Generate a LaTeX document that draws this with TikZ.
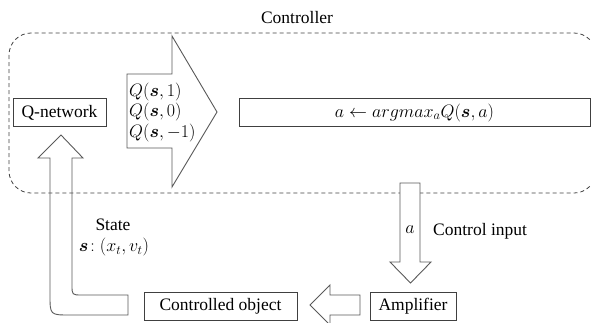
\RequirePackage{fix-cm}
\documentclass[tikz,border=0pt]{standalone}
\usepackage{amsmath}
\usepackage{fontspec}
\setmainfont{Liberation Serif}
\begin{document}
\begin{tikzpicture}[x=1pt,y=-1pt,
  every node/.style={font=\fontsize{17.5}{20.5}\selectfont},
  mathlbl/.style={font=\fontsize{18}{20.5}\selectfont},
  box/.style={draw=black!75, line width=0.9pt, fill=white, inner sep=0pt, minimum height=28pt},
  blockarrow/.style={draw=black!65, line width=0.9pt, line join=miter},
  txt/.style={inner sep=0pt}]
\useasboundingbox (0,0) rectangle (591,322);

% controller boundary (runs past the right edge)
\begin{scope}
  \clip (0,0) rectangle (591,322);
  \draw[dash pattern=on 4pt off 3pt, draw=black!75, line width=0.8pt, rounded corners=22pt]
    (9,33) rectangle (596,193);
\end{scope}
\node[txt] (ctrl) at (297,18) {Controller};

% blocks
\node[box, minimum width=93pt]  (qnet)   at (59.5,112.5)  {Q-network};
\node[box, mathlbl, minimum width=351pt] (argmax) at (414.5,112.5) {$a \leftarrow argmax_a Q(\boldsymbol{s},a)$};
\node[box, minimum width=153pt] (obj)    at (220.5,306)   {Controlled object};
\node[box, minimum width=86pt]  (amp)    at (413,306)     {Amplifier};

% Q-values block arrow
\draw[blockarrow, fill=white] (127,74) -- (172,74) -- (172,36) -- (217,112)
  -- (172,187) -- (172,148) -- (127,148) -- cycle;
\node[txt, mathlbl, anchor=west, align=left] (qvals) at (129,112)
  {$Q(\boldsymbol{s},1)$\\$Q(\boldsymbol{s},0)$\\$Q(\boldsymbol{s},-1)$};

% control input arrow
\draw[blockarrow, fill=white] (400,183) -- (420,183) -- (420,262) -- (431,262)
  -- (410.5,283) -- (390,262) -- (400,262) -- cycle;
\node[txt, mathlbl] (alab) at (410,230) {$a$};
\node[txt, anchor=west] (cin) at (433,231) {Control input};

% amplifier to controlled object
\draw[blockarrow, fill=white] (360,295) -- (330,295) -- (330,285) -- (310,305)
  -- (330,325) -- (330,315) -- (360,315) -- cycle;

% state feedback arrow
\draw[blockarrow] (61,135) -- (83,158) -- (72,158) -- (72,285)
  .. controls (72,295) .. (82,295) -- (128,295) -- (128,315) -- (70,315)
  .. controls (50,315) .. (50,295) -- (50,158) -- (38,158) -- cycle;
\node[txt] (state) at (113,225) {State};
\node[txt, mathlbl] (svec) at (114,247) {$\boldsymbol{s}\!:(x_t,v_t)$};
\end{tikzpicture}
\end{document}
